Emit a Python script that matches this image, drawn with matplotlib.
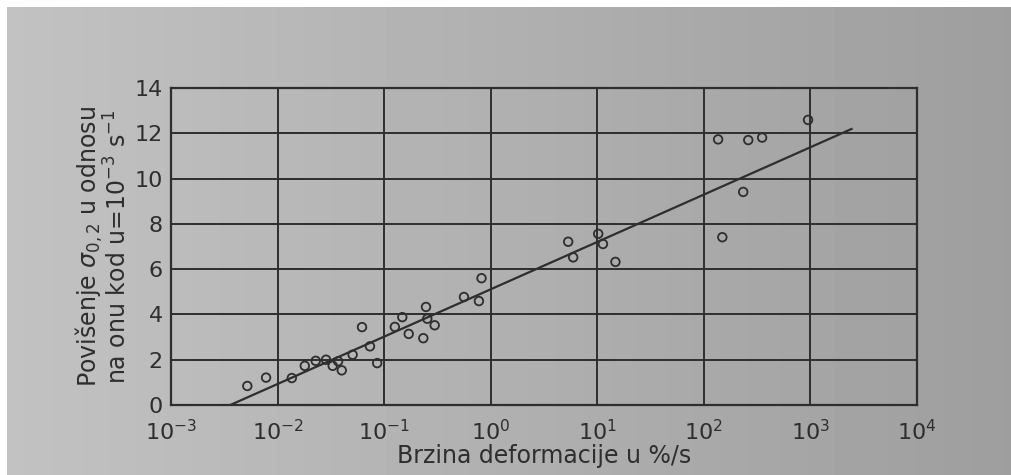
import numpy as np
import matplotlib
matplotlib.use("Agg")
import matplotlib.pyplot as plt

# measured points (strain rate in %/s, increase of yield stress)
rate = [0.0052, 0.0078, 0.0136, 0.018, 0.0228, 0.0285, 0.0329, 0.037, 0.040,
        0.0506, 0.062, 0.0736, 0.086, 0.126, 0.148, 0.170, 0.233, 0.247,
        0.254, 0.298, 0.561, 0.775, 0.82, 5.33, 5.94, 10.2, 11.3, 14.8,
        136, 149, 234, 261, 352, 950]
increase = [0.84, 1.21, 1.19, 1.73, 1.95, 2.0, 1.73, 1.93, 1.53,
            2.22, 3.44, 2.59, 1.85, 3.45, 3.88, 3.14, 2.95, 4.33,
            3.81, 3.52, 4.77, 4.59, 5.6, 7.21, 6.52, 7.56, 7.11, 6.32,
            11.73, 7.41, 9.41, 11.7, 11.81, 12.59]

# fitted line end points
fit_rate = [0.0036, 2430]
fit_increase = [0.0, 12.19]

x_ticks = [1e-3, 1e-2, 1e-1, 1e0, 1e1, 1e2, 1e3, 1e4]
x_tick_labels = ["$10^{-3}$", "$10^{-2}$", "$10^{-1}$", "$10^{0}$",
                 "$10^{1}$", "$10^{2}$", "$10^{3}$", "$10^{4}$"]
y_ticks = [0, 2, 4, 6, 8, 10, 12, 14]

ink = "#2e2e2e"

fig = plt.figure(figsize=(10.11, 4.75), dpi=100)
fig.patch.set_facecolor("white")

# scanned paper background (grey, a bit darker to the right)
bg = fig.add_axes([7 / 1011, 0, 1 - 7 / 1011, 1 - 7 / 475])
grad = np.linspace(0.76, 0.62, 256).reshape(1, -1)
bg.imshow(grad, aspect="auto", cmap="gray", vmin=0, vmax=1,
          extent=[0, 1, 0, 1])
bg.axis("off")

ax = fig.add_axes([171 / 1011, 1 - 405 / 475, 746 / 1011, 317 / 475])
ax.patch.set_alpha(0)
ax.set_xscale("log")
ax.set_xlim(1e-3, 1e4)
ax.set_ylim(0, 14)

ax.plot(fit_rate, fit_increase, color=ink, lw=1.6)
ax.scatter(rate, increase, s=38, facecolors="none", edgecolors=ink,
           linewidths=1.3, zorder=3)

ax.set_xticks(x_ticks)
ax.set_xticklabels(x_tick_labels)
ax.xaxis.set_minor_locator(matplotlib.ticker.NullLocator())
ax.set_yticks(y_ticks)
ax.grid(True, color=ink, lw=1.4)
ax.tick_params(length=0, labelsize=16, colors=ink)
ax.tick_params(axis="x", pad=10)
ax.tick_params(axis="y", pad=6)
for s in ax.spines.values():
    s.set_color(ink)
    s.set_linewidth(1.6)

ax.set_xlabel("Brzina deformacije u %/s", fontsize=17, color=ink, labelpad=0)
ax.set_ylabel("Povišenje $\\sigma_{0,2}$ u odnosu\nna onu kod u=$10^{-3}$ s$^{-1}$",
              fontsize=17, color=ink, labelpad=2, linespacing=0.95)

fig.savefig("out.png", dpi=100)
